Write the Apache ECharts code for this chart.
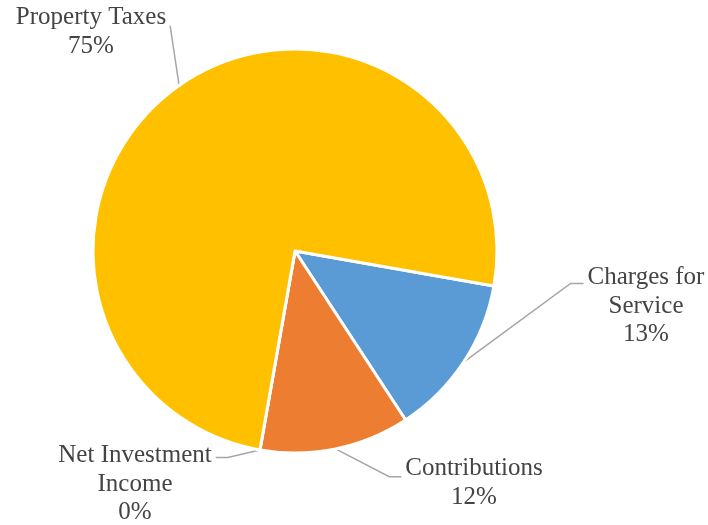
<!DOCTYPE html>
<html>
<head>
<meta charset="utf-8">
<script src="https://cdn.jsdelivr.net/npm/echarts@6/dist/echarts.min.js"></script>
<style>
  html, body { margin: 0; padding: 0; background: #ffffff; }
  #chart { width: 708px; height: 525px; }
</style>
</head>
<body>
<div id="chart"></div>
<script>
// Revenue sources, listed clockwise from the first slice
const categories = ['Charges for\nService', 'Contributions', 'Net Investment\nIncome', 'Property Taxes'];
const shares = [13, 12, 0, 75];
const sliceColors = ['#5B9BD5', '#ED7D31', '#A5A5A5', '#FFC000'];

// Label block centres and how each leader line meets its label
const labelPlacement = [
  { x: 646, y: 306, side: 'left',  elbow: 13, dy: 6 },
  { x: 474, y: 483, side: 'left',  elbow: 12, dy: 8 },
  { x: 135, y: 484, side: 'right', elbow: 12, dy: 2 },
  { x: 91,  y: 32,  side: 'right', elbow: 0,  dy: 8 }
];

const LINE_HEIGHT = 28.5;
const CENTER = [295, 251];
const RADIUS = 202;
const START_ANGLE = -10;

const chart = echarts.init(document.getElementById('chart'), null, { renderer: 'canvas' });

function edgePoint(index) {
  // mid-angle point on the outer rim, used if the series supplies no guide points
  const total = shares.reduce((a, b) => a + b, 0);
  let before = 0;
  for (let i = 0; i < index; i++) before += shares[i];
  const mid = (before + shares[index] / 2) / total * 360;
  const rad = (START_ANGLE - mid) * Math.PI / 180;
  return [CENTER[0] + RADIUS * Math.cos(rad), CENTER[1] - RADIUS * Math.sin(rad)];
}

chart.setOption({
  animation: false,
  backgroundColor: '#ffffff',
  series: [{
    type: 'pie',
    center: CENTER,
    radius: RADIUS,
    startAngle: START_ANGLE,
    clockwise: true,
    avoidLabelOverlap: false,
    itemStyle: { borderColor: '#ffffff', borderWidth: 3 },
    emphasis: { disabled: true },
    label: {
      show: true,
      position: 'outside',
      formatter: p => p.name + '\n' + Math.round(p.percent) + '%',
      fontFamily: 'Liberation Serif',
      fontSize: 25,
      lineHeight: LINE_HEIGHT,
      color: '#444444',
      align: 'center'
    },
    labelLine: {
      show: true,
      lineStyle: { color: '#A6A6A6', width: 1.5 }
    },
    labelLayout: function (params) {
      const place = labelPlacement[params.dataIndex];
      const w = params.labelRect.width;
      const h = params.labelRect.height;
      const left = place.x - w / 2;
      const top = place.y - h / 2;
      const anchorY = top + LINE_HEIGHT / 2 + place.dy;
      let p2, p1;
      if (place.side === 'left') {
        p2 = [left - 4, anchorY];
        p1 = [p2[0] - place.elbow, anchorY];
      } else {
        p2 = [left + w + 4, anchorY];
        p1 = [p2[0] + place.elbow, anchorY];
      }
      const p0 = (params.labelLinePoints && params.labelLinePoints[0])
        ? params.labelLinePoints[0] : edgePoint(params.dataIndex);
      return {
        x: place.x,
        y: place.y,
        align: 'center',
        verticalAlign: 'middle',
        labelLinePoints: [p0, p1, p2]
      };
    },
    data: categories.map((name, i) => ({
      name: name,
      value: shares[i],
      itemStyle: { color: sliceColors[i] }
    }))
  }]
});
</script>
</body>
</html>
